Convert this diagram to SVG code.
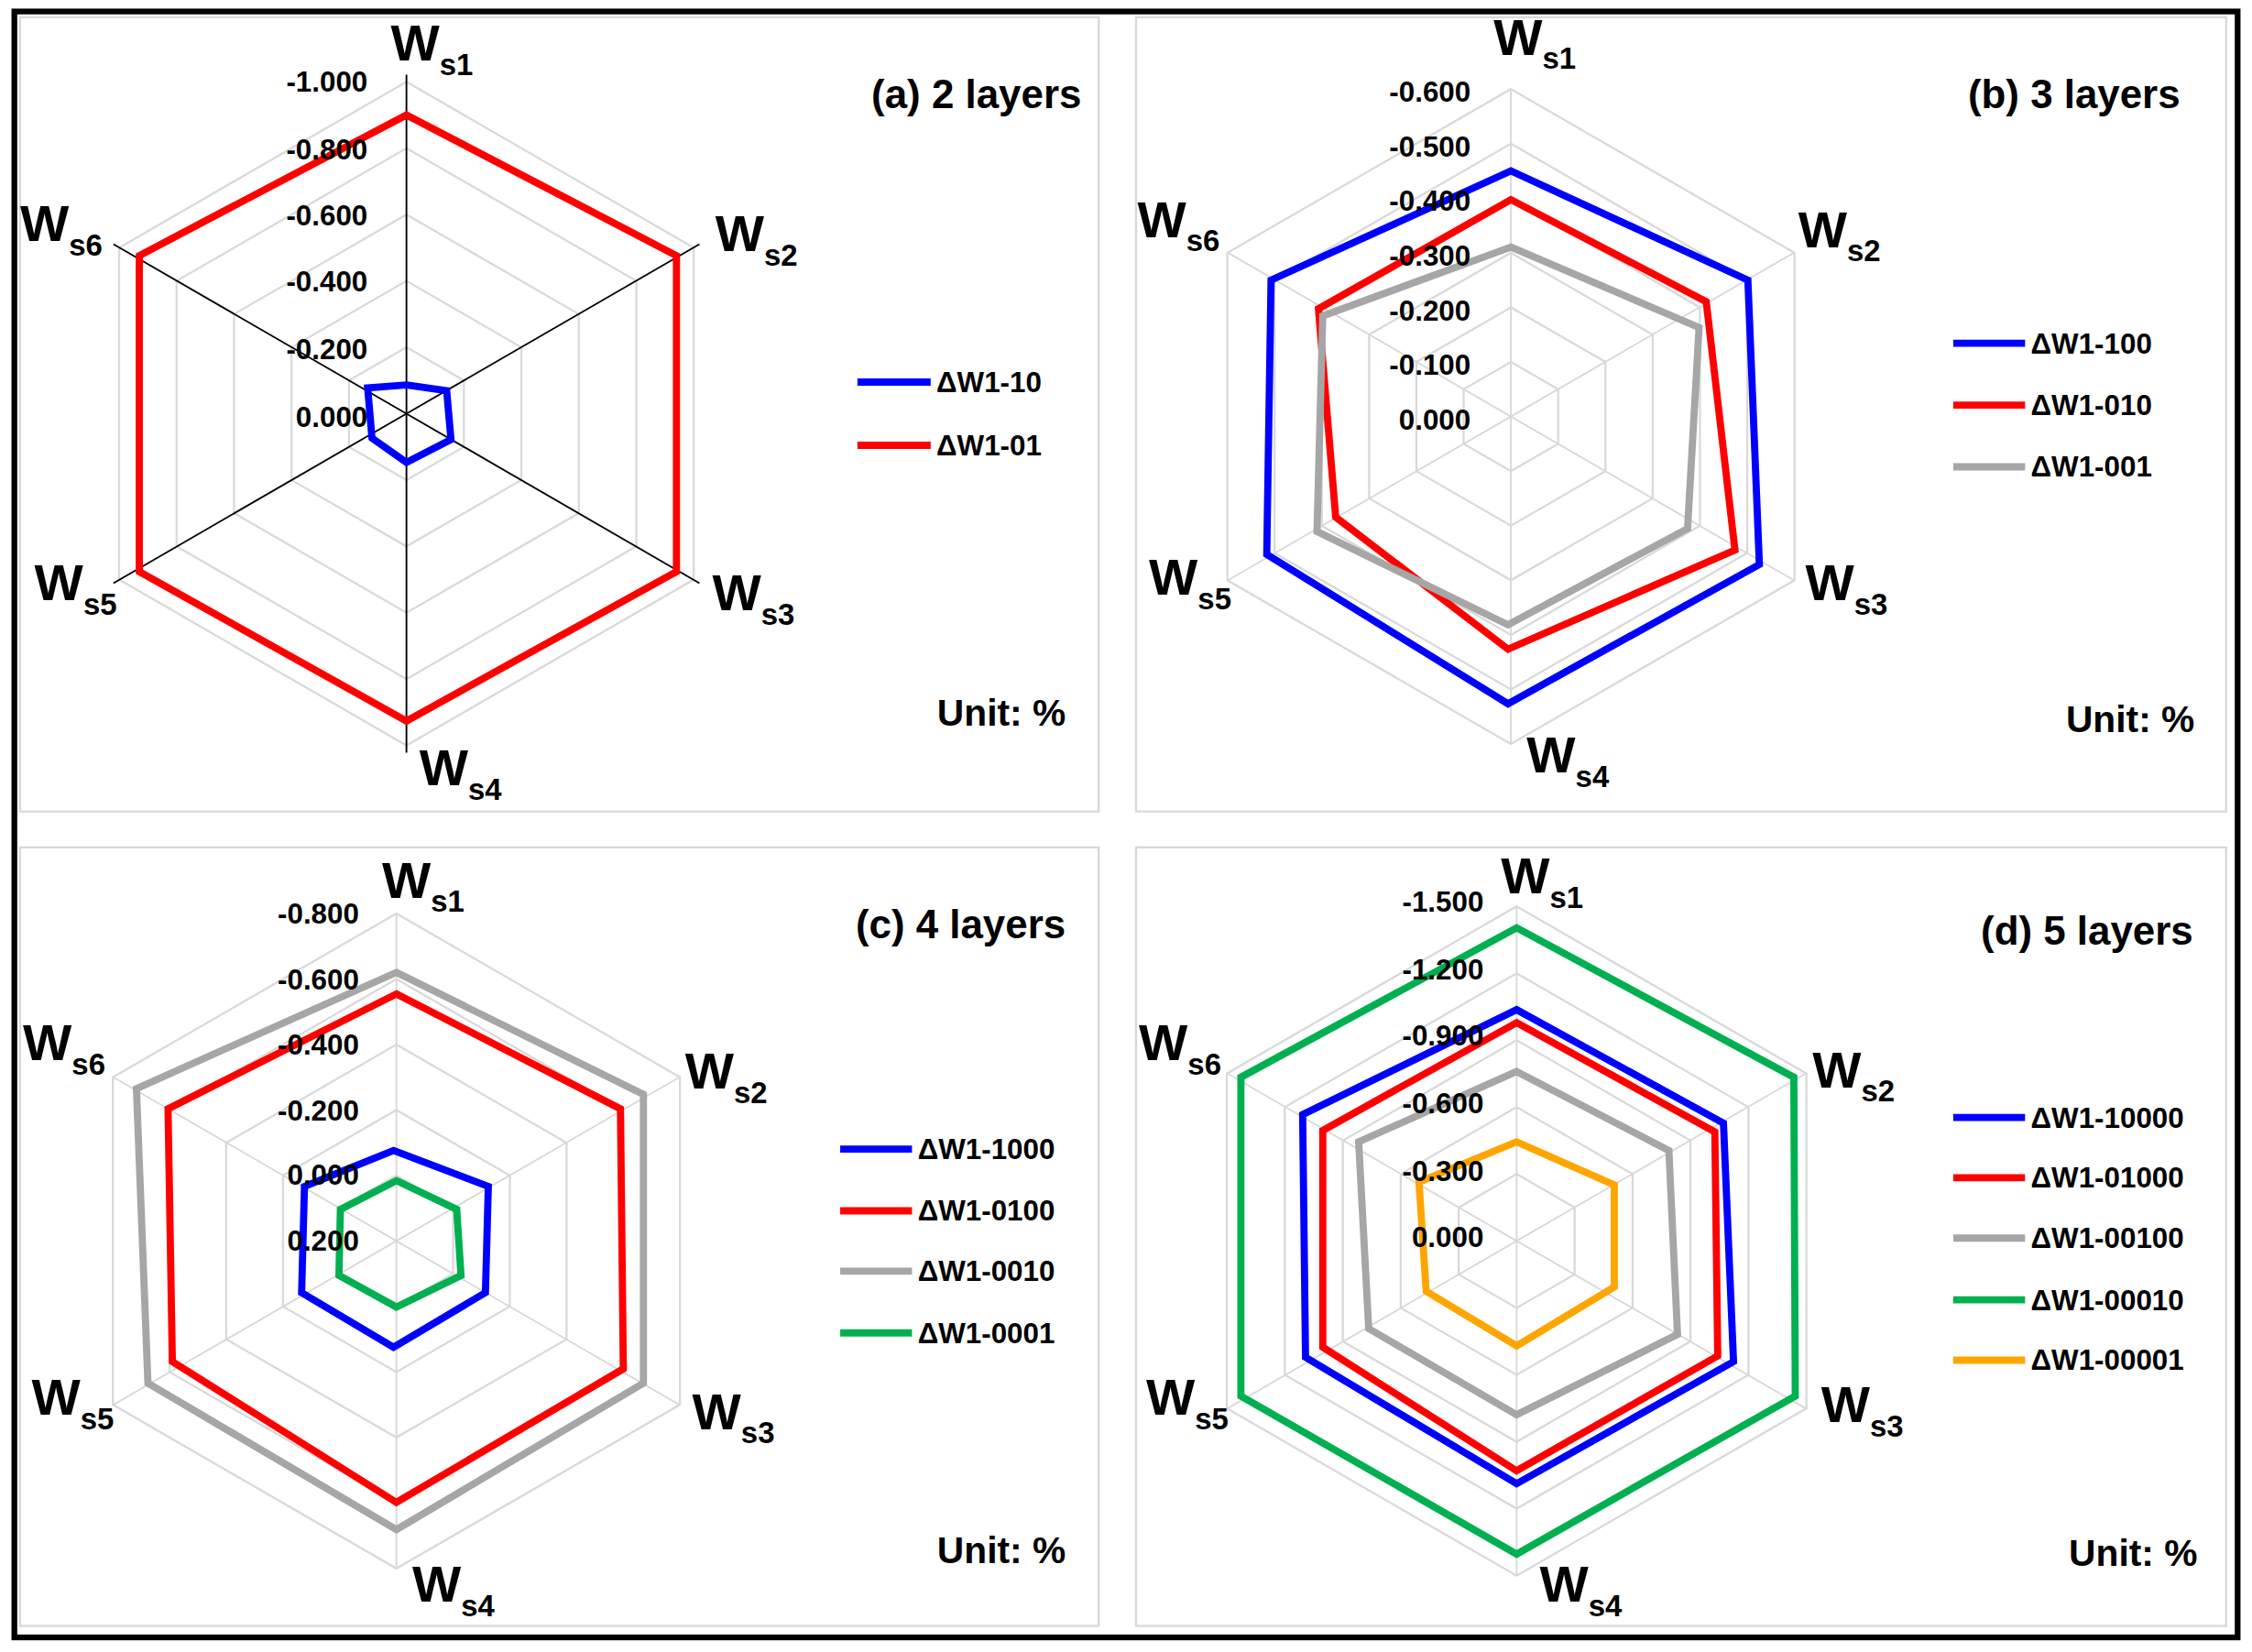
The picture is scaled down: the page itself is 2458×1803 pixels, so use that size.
<svg xmlns="http://www.w3.org/2000/svg" xmlns:xlink="http://www.w3.org/1999/xlink" width="2458" height="1803" viewBox="0 0 2458 1803">
<style>
text{font-family:"Liberation Sans",Arial,sans-serif;font-weight:bold;fill:#000}
.ax{stroke:#d9d9d9;stroke-width:1.2}
.axk{stroke:#000;stroke-width:1.2}
.panel{fill:#fff;stroke:#d9d9d9;stroke-width:1.5}
.s{fill:none;stroke-width:5;stroke-linejoin:miter}
.tick{font-size:20px;text-anchor:end}
.lab{font-size:36px}
.sub{font-size:21px}
.title{font-size:28px;text-anchor:end}
.leg{font-size:20px}
.unit{font-size:26px;text-anchor:end}
</style>
<defs>
<polygon id="hex" points="0,-1 0.866,-0.5 0.866,0.5 0,1 -0.866,0.5 -0.866,-0.5" fill="none" stroke="#d9d9d9" stroke-width="2.3" vector-effect="non-scaling-stroke"/>
</defs>
<rect width="2458" height="1803" fill="#fff"/>
<g transform="scale(1.5676)">
<rect x="10" y="8" width="1548" height="1132" fill="none" stroke="#000" stroke-width="4"/>

<g id="panel-a">
<rect class="panel" x="14" y="12" width="751" height="553"/>
<g>
<use xlink:href="#hex" transform="translate(283,288) scale(46.2)"/>
<use xlink:href="#hex" transform="translate(283,288) scale(92.4)"/>
<use xlink:href="#hex" transform="translate(283,288) scale(138.6)"/>
<use xlink:href="#hex" transform="translate(283,288) scale(184.8)"/>
<use xlink:href="#hex" transform="translate(283,288) scale(231)"/>
</g>
<g class="axk">
<line x1="283" y1="288" x2="283" y2="52"/><line x1="283" y1="288" x2="487" y2="170"/>
<line x1="283" y1="288" x2="487" y2="406"/><line x1="283" y1="288" x2="283" y2="524"/>
<line x1="283" y1="288" x2="79" y2="406"/><line x1="283" y1="288" x2="79" y2="170"/>
</g>
<polygon class="s" stroke="#ff0000" points="283,80 471,178 471,398 283,502 97,398 97,178"/>
<polygon class="s" stroke="#0000ff" points="283,268 311,272 314,306 283,322 259,305 256,270"/>
<g class="tick">
<text x="256" y="64">-1.000</text><text x="256" y="111">-0.800</text><text x="256" y="157">-0.600</text>
<text x="256" y="203">-0.400</text><text x="256" y="250">-0.200</text><text x="256" y="297">0.000</text>
</g>
<g class="lab">
<text x="272" y="42">W<tspan class="sub" dy="10">s1</tspan></text>
<text x="498" y="175">W<tspan class="sub" dy="10">s2</tspan></text>
<text x="496" y="425">W<tspan class="sub" dy="10">s3</tspan></text>
<text x="292" y="547">W<tspan class="sub" dy="10">s4</tspan></text>
<text x="24" y="418">W<tspan class="sub" dy="10">s5</tspan></text>
<text x="14" y="168">W<tspan class="sub" dy="10">s6</tspan></text>
</g>
<text class="title" x="753" y="75">(a) 2 layers</text>
<line x1="597" y1="266" x2="648" y2="266" stroke="#0000ff" stroke-width="5"/>
<text class="leg" x="652" y="273">ΔW1-10</text>
<line x1="597" y1="310" x2="648" y2="310" stroke="#ff0000" stroke-width="5"/>
<text class="leg" x="652" y="317">ΔW1-01</text>
<text class="unit" x="742" y="505">Unit: %</text>
</g>

<g id="panel-b">
<rect class="panel" x="791" y="12" width="759" height="553"/>
<g>
<use xlink:href="#hex" transform="translate(1052,290) scale(38)"/>
<use xlink:href="#hex" transform="translate(1052,290) scale(76)"/>
<use xlink:href="#hex" transform="translate(1052,290) scale(114)"/>
<use xlink:href="#hex" transform="translate(1052,290) scale(152)"/>
<use xlink:href="#hex" transform="translate(1052,290) scale(190)"/>
<use xlink:href="#hex" transform="translate(1052,290) scale(228)"/>
</g>
<g class="ax">
<line x1="1052" y1="290" x2="1052" y2="62"/><line x1="1052" y1="290" x2="1249" y2="176"/>
<line x1="1052" y1="290" x2="1249" y2="404"/><line x1="1052" y1="290" x2="1052" y2="518"/>
<line x1="1052" y1="290" x2="855" y2="404"/><line x1="1052" y1="290" x2="855" y2="176"/>
</g>
<polygon class="s" stroke="#0000ff" points="1052,119 1217,195 1225,393 1050,490 882,386 885,195"/>
<polygon class="s" stroke="#ff0000" points="1052,139 1188,210 1208,383 1050,452 930,360 918,215"/>
<polygon class="s" stroke="#a6a6a6" points="1052,172 1183,228 1175,368 1050,435 917,370 921,220"/>
<g class="tick">
<text x="1024" y="71">-0.600</text><text x="1024" y="109">-0.500</text><text x="1024" y="147">-0.400</text>
<text x="1024" y="185">-0.300</text><text x="1024" y="223">-0.200</text><text x="1024" y="261">-0.100</text>
<text x="1024" y="299">0.000</text>
</g>
<g class="lab">
<text x="1040" y="38">W<tspan class="sub" dy="10">s1</tspan></text>
<text x="1252" y="172">W<tspan class="sub" dy="10">s2</tspan></text>
<text x="1257" y="418">W<tspan class="sub" dy="10">s3</tspan></text>
<text x="1063" y="538">W<tspan class="sub" dy="10">s4</tspan></text>
<text x="800" y="414">W<tspan class="sub" dy="10">s5</tspan></text>
<text x="792" y="165">W<tspan class="sub" dy="10">s6</tspan></text>
</g>
<text class="title" x="1518" y="75">(b) 3 layers</text>
<line x1="1360" y1="239" x2="1410" y2="239" stroke="#0000ff" stroke-width="5"/>
<text class="leg" x="1414" y="246">ΔW1-100</text>
<line x1="1360" y1="282" x2="1410" y2="282" stroke="#ff0000" stroke-width="5"/>
<text class="leg" x="1414" y="289">ΔW1-010</text>
<line x1="1360" y1="325" x2="1410" y2="325" stroke="#a6a6a6" stroke-width="5"/>
<text class="leg" x="1414" y="332">ΔW1-001</text>
<text class="unit" x="1528" y="510">Unit: %</text>
</g>

<g id="panel-c">
<rect class="panel" x="14" y="590" width="751" height="542"/>
<g>
<use xlink:href="#hex" transform="translate(276,864) scale(45.6)"/>
<use xlink:href="#hex" transform="translate(276,864) scale(91.2)"/>
<use xlink:href="#hex" transform="translate(276,864) scale(136.8)"/>
<use xlink:href="#hex" transform="translate(276,864) scale(182.4)"/>
<use xlink:href="#hex" transform="translate(276,864) scale(228)"/>
</g>
<g class="ax">
<line x1="276" y1="864" x2="276" y2="636"/><line x1="276" y1="864" x2="473" y2="750"/>
<line x1="276" y1="864" x2="473" y2="978"/><line x1="276" y1="864" x2="276" y2="1092"/>
<line x1="276" y1="864" x2="79" y2="978"/><line x1="276" y1="864" x2="79" y2="750"/>
</g>
<polygon class="s" stroke="#a6a6a6" points="276,677 448,762 448,963 276,1065 103,963 95,758"/>
<polygon class="s" stroke="#ff0000" points="276,692 432,772 434,953 276,1046 120,948 117,772"/>
<polygon class="s" stroke="#0000ff" points="274,801 340,826 338,900 274,938 210,900 212,826"/>
<polygon class="s" stroke="#00b050" points="276,822 318,842 321,888 276,910 236,888 237,842"/>
<g class="tick">
<text x="250" y="643">-0.800</text><text x="250" y="689">-0.600</text><text x="250" y="734">-0.400</text>
<text x="250" y="780">-0.200</text><text x="250" y="825">0.000</text><text x="250" y="871">0.200</text>
</g>
<g class="lab">
<text x="266" y="625">W<tspan class="sub" dy="10">s1</tspan></text>
<text x="477" y="758">W<tspan class="sub" dy="10">s2</tspan></text>
<text x="482" y="995">W<tspan class="sub" dy="10">s3</tspan></text>
<text x="287" y="1115">W<tspan class="sub" dy="10">s4</tspan></text>
<text x="22" y="985">W<tspan class="sub" dy="10">s5</tspan></text>
<text x="16" y="738">W<tspan class="sub" dy="10">s6</tspan></text>
</g>
<text class="title" x="742" y="653">(c) 4 layers</text>
<line x1="585" y1="800" x2="635" y2="800" stroke="#0000ff" stroke-width="5"/>
<text class="leg" x="639" y="807">ΔW1-1000</text>
<line x1="585" y1="843" x2="635" y2="843" stroke="#ff0000" stroke-width="5"/>
<text class="leg" x="639" y="850">ΔW1-0100</text>
<line x1="585" y1="885" x2="635" y2="885" stroke="#a6a6a6" stroke-width="5"/>
<text class="leg" x="639" y="892">ΔW1-0010</text>
<line x1="585" y1="928" x2="635" y2="928" stroke="#00b050" stroke-width="5"/>
<text class="leg" x="639" y="935">ΔW1-0001</text>
<text class="unit" x="742" y="1088">Unit: %</text>
</g>

<g id="panel-d">
<rect class="panel" x="791" y="590" width="759" height="542"/>
<g>
<use xlink:href="#hex" transform="translate(1056,864) scale(46.6)"/>
<use xlink:href="#hex" transform="translate(1056,864) scale(93.2)"/>
<use xlink:href="#hex" transform="translate(1056,864) scale(139.8)"/>
<use xlink:href="#hex" transform="translate(1056,864) scale(186.4)"/>
<use xlink:href="#hex" transform="translate(1056,864) scale(233)"/>
</g>
<g class="ax">
<line x1="1056" y1="864" x2="1056" y2="631"/><line x1="1056" y1="864" x2="1258" y2="747"/>
<line x1="1056" y1="864" x2="1258" y2="981"/><line x1="1056" y1="864" x2="1056" y2="1097"/>
<line x1="1056" y1="864" x2="854" y2="981"/><line x1="1056" y1="864" x2="854" y2="747"/>
</g>
<polygon class="s" stroke="#00b050" points="1056,646 1249,750 1250,972 1056,1082 864,972 864,750"/>
<polygon class="s" stroke="#0000ff" points="1056,703 1200,782 1207,948 1056,1033 909,945 907,776"/>
<polygon class="s" stroke="#ff0000" points="1056,712 1194,788 1196,944 1056,1024 921,938 921,787"/>
<polygon class="s" stroke="#a6a6a6" points="1056,746 1162,801 1168,929 1056,985 953,925 946,795"/>
<polygon class="s" stroke="#ffa500" points="1056,795 1124,825 1124,896 1056,937 993,899 988,823"/>
<g class="tick">
<text x="1033" y="635">-1.500</text><text x="1033" y="682">-1.200</text><text x="1033" y="728">-0.900</text>
<text x="1033" y="775">-0.600</text><text x="1033" y="822">-0.300</text><text x="1033" y="868">0.000</text>
</g>
<g class="lab">
<text x="1045" y="622">W<tspan class="sub" dy="10">s1</tspan></text>
<text x="1262" y="757">W<tspan class="sub" dy="10">s2</tspan></text>
<text x="1268" y="990">W<tspan class="sub" dy="10">s3</tspan></text>
<text x="1072" y="1115">W<tspan class="sub" dy="10">s4</tspan></text>
<text x="798" y="985">W<tspan class="sub" dy="10">s5</tspan></text>
<text x="793" y="738">W<tspan class="sub" dy="10">s6</tspan></text>
</g>
<text class="title" x="1527" y="658">(d) 5 layers</text>
<line x1="1360" y1="778" x2="1410" y2="778" stroke="#0000ff" stroke-width="5"/>
<text class="leg" x="1414" y="785">ΔW1-10000</text>
<line x1="1360" y1="820" x2="1410" y2="820" stroke="#ff0000" stroke-width="5"/>
<text class="leg" x="1414" y="827">ΔW1-01000</text>
<line x1="1360" y1="862" x2="1410" y2="862" stroke="#a6a6a6" stroke-width="5"/>
<text class="leg" x="1414" y="869">ΔW1-00100</text>
<line x1="1360" y1="905" x2="1410" y2="905" stroke="#00b050" stroke-width="5"/>
<text class="leg" x="1414" y="912">ΔW1-00010</text>
<line x1="1360" y1="947" x2="1410" y2="947" stroke="#ffa500" stroke-width="5"/>
<text class="leg" x="1414" y="954">ΔW1-00001</text>
<text class="unit" x="1530" y="1090">Unit: %</text>
</g>
</g>
</svg>
